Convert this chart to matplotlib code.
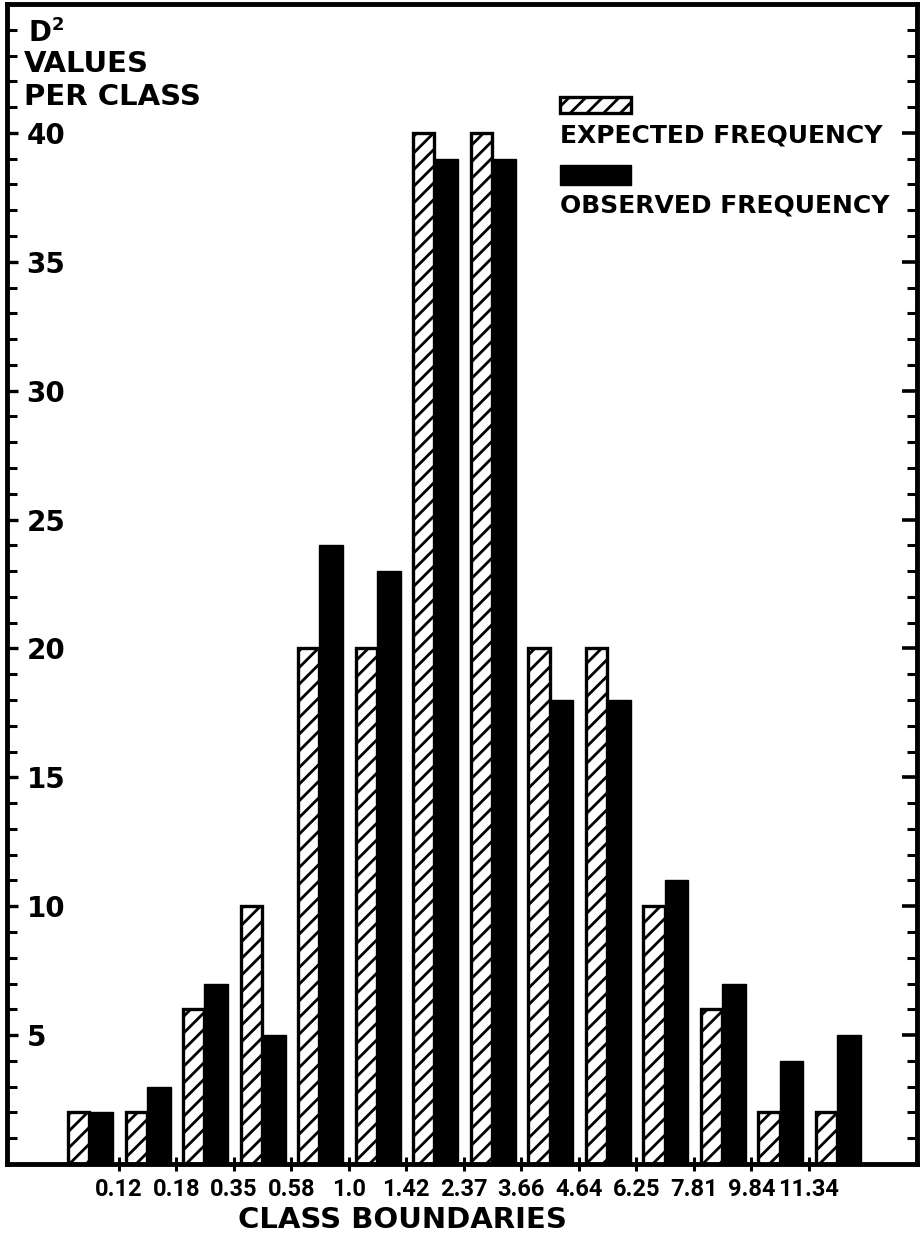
import matplotlib
matplotlib.use("Agg")
import matplotlib.pyplot as plt
from matplotlib.patches import Rectangle
from matplotlib import font_manager
import numpy as np

# ---- data ----
boundaries = ['0.12', '0.18', '0.35', '0.58', '1.0', '1.42', '2.37',
              '3.66', '4.64', '6.25', '7.81', '9.84', '11.34']
expected = [2, 2, 6, 10, 20, 20, 40, 40, 20, 20, 10, 6, 2, 2]
observed = [2, 3, 7, 5, 24, 23, 39, 39, 18, 18, 11, 7, 4, 5]
y_major = [5, 10, 15, 20, 25, 30, 35, 40]
y_major_labels = ['5', '10', '15', '20', '25', '30', '35', '40']

plt.rcParams['font.family'] = ['DejaVu Sans']
plt.rcParams['hatch.linewidth'] = 2.0
plt.rcParams['hatch.color'] = 'black'

names = {f.name for f in font_manager.fontManager.ttflist}
narrow = ['Roboto', 'DejaVu Sans'] if 'Roboto' in names else ['DejaVu Sans']
xt_size = 17 if 'Roboto' in names else 15

W, H = 923, 1233
fig = plt.figure(figsize=(W / 100, H / 100), dpi=100)
left, right, top, bottom = 7, 917, 4, 1164
ax = fig.add_axes([left / W, 1 - bottom / H, (right - left) / W, (bottom - top) / H])

x = np.arange(len(expected))
ax.bar(x - 0.38, expected, width=0.37, align='edge', facecolor='white',
       edgecolor='black', linewidth=2.4, hatch='//', zorder=2)
ax.bar(x - 0.01, observed, width=0.41, align='edge', facecolor='black',
       edgecolor='black', linewidth=1.0, zorder=3)

ax.set_xlim(-1.443, 14.38)
ax.set_ylim(0, 45)

for s in ax.spines.values():
    s.set_linewidth(3.5)

# x ticks at class boundaries
ax.set_xticks(np.arange(len(boundaries)) + 0.5)
ax.set_xticklabels(boundaries, fontsize=xt_size, fontweight='bold', family=narrow)
ax.tick_params(axis='x', direction='inout', length=10, width=2.2, pad=5)

# y ticks (left, inside, labels inside)
ax.set_yticks(y_major)
ax.set_yticklabels(y_major_labels, fontsize=20, fontweight='bold')
ax.set_yticks(np.arange(1, 45), minor=True)
ax.tick_params(axis='y', which='major', direction='in', length=8, width=2.4,
               pad=-14)
ax.tick_params(axis='y', which='minor', direction='in', length=7, width=2.2)
for lab in ax.get_yticklabels():
    lab.set_horizontalalignment('left')

# right side ticks
ax2 = ax.twinx()
ax2.set_ylim(0, 45)
ax2.set_yticks(y_major)
ax2.set_yticks(np.arange(1, 45), minor=True)
ax2.set_yticklabels([])
ax2.tick_params(axis='y', which='major', direction='in', length=11, width=2.6)
ax2.tick_params(axis='y', which='minor', direction='in', length=7, width=2.2)
for s in ax2.spines.values():
    s.set_visible(False)

# axis titles
ax.set_xlabel('CLASS BOUNDARIES', fontsize=21, fontweight='bold')
ax.xaxis.set_label_coords((402 - left) / (right - left), -0.036)

def px(xp, yp):
    return xp / W, 1 - yp / H

fig.text(*px(29, 33), 'D', fontsize=20, fontweight='bold', ha='left', va='center')
fig.text(*px(52, 25), '2', fontsize=13, fontweight='bold', ha='left', va='center')
fig.text(*px(24, 64), 'VALUES', fontsize=21, fontweight='bold', ha='left', va='center')
fig.text(*px(24, 97), 'PER CLASS', fontsize=21, fontweight='bold', ha='left', va='center')

# legend (handles above labels)
fig.patches.append(Rectangle(px(560, 113), 71 / W, 16 / H, transform=fig.transFigure,
                             facecolor='white', edgecolor='black', linewidth=2.4,
                             hatch='//', figure=fig))
fig.text(*px(560, 135), 'EXPECTED FREQUENCY', fontsize=18, fontweight='bold',
         ha='left', va='center')
fig.patches.append(Rectangle(px(560, 185), 71 / W, 20 / H, transform=fig.transFigure,
                             facecolor='black', edgecolor='black', linewidth=1,
                             figure=fig))
fig.text(*px(560, 206), 'OBSERVED FREQUENCY', fontsize=18, fontweight='bold',
         ha='left', va='center')

fig.savefig('out.png', dpi=100)
